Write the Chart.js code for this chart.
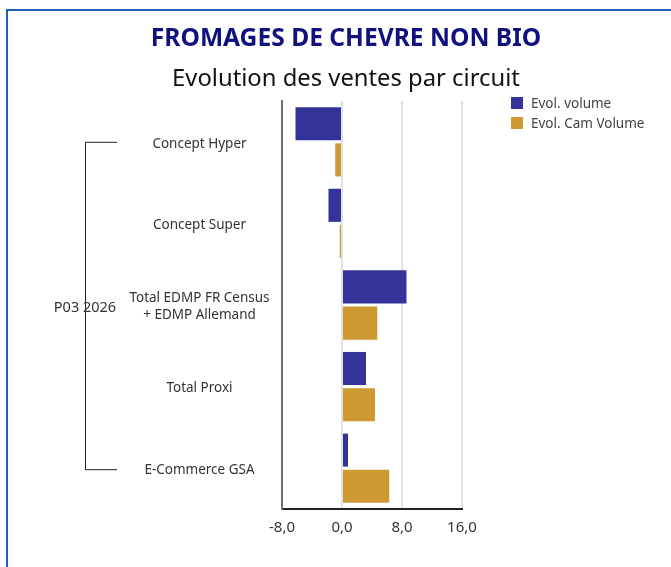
<!DOCTYPE html>
<html>
<head>
<meta charset="utf-8">
<script src="https://cdn.jsdelivr.net/npm/chart.js@4.4.1/dist/chart.umd.min.js"></script>
<style>
  html, body { margin:0; padding:0; background:#fff; width:671px; height:567px; overflow:hidden; font-family:"Noto Sans", sans-serif; }
  #frame { position:absolute; left:6px; top:9px; width:760px; height:640px; border:2px solid #1f62b3; box-sizing:border-box; }
  #chartBox { position:absolute; left:0; top:0; width:671px; height:567px; }
  .title { position:absolute; left:0; width:692px; text-align:center; white-space:nowrap; }
  #t1 { top:25px; font-size:24.6px; line-height:24px; font-weight:700; color:#10107f; }
  #t2 { top:66px; font-size:23.8px; line-height:23px; color:#111; }
  #legend { position:absolute; left:511px; top:97px; font-size:13.5px; color:#444; }
  #legend div { position:relative; height:19.5px; line-height:12px; padding-left:20px; white-space:nowrap; }
  #legend span { position:absolute; left:0; top:0; width:12px; height:12px; }
</style>
</head>
<body>
<div id="frame"></div>
<div id="chartBox"><canvas id="c" width="671" height="567"></canvas></div>
<div class="title" id="t1">FROMAGES DE CHEVRE NON BIO</div>
<div class="title" id="t2">Evolution des ventes par circuit</div>
<div id="legend"></div>
<script>
// ---------- data ----------
const categories = [['Concept Hyper'], ['Concept Super'], ['Total EDMP FR Census', '+ EDMP Allemand'], ['Total Proxi'], ['E-Commerce GSA']];
const evolVolume = [-6.2, -1.8, 8.6, 3.2, 0.8];
const evolCamVolume = [-0.9, -0.3, 4.7, 4.4, 6.3];
const xTicks = [-8, 0, 8, 16];
const seriesNames = ['Evol. volume', 'Evol. Cam Volume'];
const seriesColors = ['#333399', '#cc9933'];
const groupLabel = 'P03 2026';

// ---------- legend (html) ----------
const lg = document.getElementById('legend');
seriesNames.forEach((n, i) => {
  const d = document.createElement('div');
  d.innerHTML = '<span style="background:' + seriesColors[i] + '"></span>' + n;
  lg.appendChild(d);
});

// center the category labels around x ~ 200
const tickFont = '13.5px "Noto Sans"';
const mctx = document.createElement('canvas').getContext('2d');
mctx.font = tickFont;
let widest = 0;
categories.forEach(l => l.forEach(s => { widest = Math.max(widest, mctx.measureText(s).width); }));
const yPad = Math.max(2, 82.5 - widest / 2);

// ---------- bracket for the period group ----------
const groupBracket = {
  id: 'groupBracket',
  afterDraw(chart) {
    const y = chart.scales.y, ctx = chart.ctx;
    const y0 = y.getPixelForValue(0), y1 = y.getPixelForValue(categories.length - 1);
    ctx.save();
    ctx.strokeStyle = '#222';
    ctx.lineWidth = 1;
    ctx.beginPath();
    ctx.moveTo(117, y0 + 0.5); ctx.lineTo(85.5, y0 + 0.5);
    ctx.lineTo(85.5, y1 + 1.5); ctx.lineTo(117, y1 + 1.5);
    ctx.stroke();
    ctx.font = '14.5px "Noto Sans"';
    ctx.fillStyle = '#333';
    ctx.textAlign = 'center';
    ctx.textBaseline = 'middle';
    ctx.fillText(groupLabel, 85, (y0 + y1) / 2 + 3);
    ctx.restore();
  }
};

new Chart(document.getElementById('c'), {
  type: 'bar',
  data: {
    labels: categories,
    datasets: [
      { label: seriesNames[0], data: evolVolume, backgroundColor: seriesColors[0] },
      { label: seriesNames[1], data: evolCamVolume, backgroundColor: seriesColors[1] }
    ]
  },
  options: {
    indexAxis: 'y',
    responsive: false,
    animation: false,
    categoryPercentage: 0.887,
    barPercentage: 0.914,
    layout: { padding: { top: 101, right: 209, left: 0, bottom: 0 } },
    plugins: { legend: { display: false }, tooltip: { enabled: false } },
    scales: {
      x: {
        min: -8, max: 16,
        afterBuildTicks: s => { s.ticks = xTicks.map(v => ({ value: v })); },
        afterFit: s => { s.height = 58; },
        grid: { color: '#e2e2e2', lineWidth: 2, drawTicks: false },
        border: { color: '#222', width: 2 },
        ticks: {
          padding: 10,
          color: '#333',
          font: { family: 'Noto Sans', size: 15 },
          callback: v => v.toFixed(1).replace('.', ',')
        }
      },
      y: {
        afterFit: s => { s.width = 282; },
        grid: { display: false, drawTicks: false },
        border: { color: '#707070', width: 2 },
        ticks: {
          crossAlign: 'center',
          padding: yPad,
          labelOffset: 2,
          color: '#333',
          font: { family: 'Noto Sans', size: 13.5, lineHeight: 1.26 }
        }
      }
    }
  },
  plugins: [groupBracket]
});
</script>
</body>
</html>
